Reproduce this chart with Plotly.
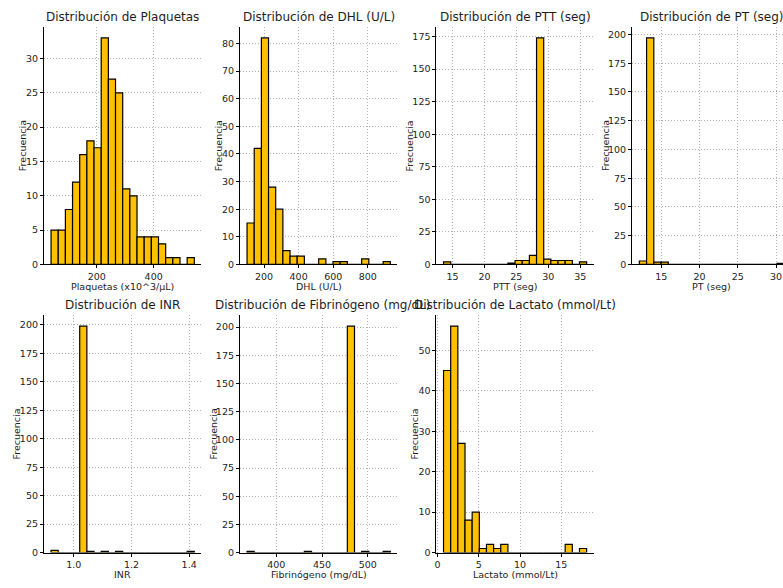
import plotly.graph_objects as go

W, H = 783, 588

# ---- data (histogram bins: first edge, bin width, counts) ----
plaq_start, plaq_width = 39.0, 25.2
plaq_counts = [5, 5, 8, 12, 16, 18, 17, 33, 27, 25, 11, 10, 4, 4, 4, 3, 1, 1, 0, 1]

dhl_start, dhl_width = 102.0, 41.4
dhl_counts = [15, 42, 82, 28, 20, 5, 3, 3, 0, 0, 2, 0, 1, 1, 0, 0, 2, 0, 0, 1]

ptt_start, ptt_width = 13.6, 1.12
ptt_counts = [2, 0, 0, 0, 0, 0, 0, 0, 0, 1, 3, 3, 7, 174, 4, 3, 3, 3, 0, 2]

pt_start, pt_width = 12.13, 0.947
pt_counts = [3, 197, 2, 2, 0, 0, 0, 0, 0, 0, 0, 0, 0, 0, 0, 0, 0, 0, 0, 1]

inr_start, inr_width = 0.921, 0.02485
inr_counts = [2, 0, 0, 0, 199, 1, 0, 1, 0, 1, 0, 0, 0, 0, 0, 0, 0, 0, 0, 1]

fib_start, fib_width = 368.0, 7.835
fib_counts = [1, 0, 0, 0, 0, 0, 0, 0, 1, 0, 0, 0, 0, 0, 201, 0, 1, 0, 0, 1]

lac_start, lac_width = 0.73, 0.8665
lac_counts = [45, 56, 27, 8, 10, 1, 2, 1, 2, 0, 0, 0, 0, 0, 0, 0, 0, 2, 0, 1]

titles = ["Distribución de Plaquetas", "Distribución de DHL (U/L)",
          "Distribución de PTT (seg)", "Distribución de PT (seg)",
          "Distribución de INR", "Distribución de Fibrinógeno (mg/dL)",
          "Distribución de Lactato (mmol/Lt)"]
xlabels = ["Plaquetas (x10^3/µL)", "DHL (U/L)", "PTT (seg)", "PT (seg)",
           "INR", "Fibrinógeno (mg/dL)", "Lactato (mmol/Lt)"]
ylabel = "Frecuencia"

panels = [
    (plaq_start, plaq_width, plaq_counts, 200, 5, None),
    (dhl_start, dhl_width, dhl_counts, 200, 10, None),
    (ptt_start, ptt_width, ptt_counts, 5, 25, None),
    (pt_start, pt_width, pt_counts, 5, 25, None),
    (inr_start, inr_width, inr_counts, 0.2, 25, ".1f"),
    (fib_start, fib_width, fib_counts, 50, 25, None),
    (lac_start, lac_width, lac_counts, 5, 10, None),
]

# ---- layout geometry (pixels) ----
col_px = [(42, 200), (238.5, 396.5), (435.5, 593.3), (631.7, 791.5)]
row_px = [(26.8, 266.7), (317.4, 557.3)]
ylab_px = [20.7, 217.3, 409, 605, 15, 212.3, 414]

BAR = "#FFC000"
FONT = "DejaVu Sans"
TXT = "#1e1e1e"

fig = go.Figure()
layout = dict(width=W, height=H, margin=dict(l=0, r=0, t=0, b=0),
              paper_bgcolor="white", plot_bgcolor="white",
              showlegend=False, barmode="overlay",
              font=dict(family=FONT, color=TXT, size=9))
annotations = []

for i, (start, width, counts, xd, yd, xfmt) in enumerate(panels):
    r, c = divmod(i, 4)
    n = len(counts)
    centers = [start + (k + 0.5) * width for k in range(n)]
    xs = "" if i == 0 else str(i + 1)
    fig.add_trace(go.Bar(x=centers, y=counts, width=[width] * n,
                         marker=dict(color=BAR, line=dict(color="black", width=1.2)),
                         xaxis="x" + xs, yaxis="y" + xs, hoverinfo="x+y"))
    lo, hi = start, start + n * width
    pad = 0.05 * (hi - lo)
    xmin, xmax = lo - pad, hi + pad
    x0p, x1p = col_px[c]
    if x1p > W:  # panel cut at the right edge of the picture
        xmax = xmin + (xmax - xmin) * (W - x0p) / (x1p - x0p)
        x1p_eff = W
    else:
        x1p_eff = x1p
    y0p, y1p = row_px[r]
    ymax = max(counts) * 1.05
    axis_common = dict(showline=True, linecolor="black", linewidth=1,
                       showgrid=True, gridcolor="#b0b0b0", griddash="1px,2px", gridwidth=1,
                       zeroline=False, ticks="outside", ticklen=3, tickcolor="black",
                       tickfont=dict(family=FONT, size=9.5, color=TXT))
    xa = dict(axis_common, domain=[x0p / W, x1p_eff / W], range=[xmin, xmax],
              dtick=xd, tick0=0, anchor="y" + xs)
    if xfmt:
        xa["tickformat"] = xfmt
    ya = dict(axis_common, domain=[1 - y1p / H, 1 - y0p / H], range=[0, ymax],
              dtick=yd, tick0=0, anchor="x" + xs)
    layout["xaxis" + xs] = xa
    layout["yaxis" + xs] = ya

    cx = (x0p + x1p) / 2 / W
    tx = cx + (4 / W if i == 5 else 0)
    annotations.append(dict(text=titles[i], x=tx, y=1 - (y0p - 10) / H,
                            xref="paper", yref="paper", showarrow=False,
                            xanchor="center", yanchor="middle",
                            font=dict(family=FONT, size=12, color=TXT)))
    annotations.append(dict(text=xlabels[i], x=cx, y=1 - (y1p + 22) / H,
                            xref="paper", yref="paper", showarrow=False,
                            xanchor="center", yanchor="middle",
                            font=dict(family=FONT, size=9.5, color=TXT)))
    annotations.append(dict(text=ylabel, x=ylab_px[i] / W, y=1 - (y0p + y1p) / 2 / H,
                            xref="paper", yref="paper", showarrow=False, textangle=-90,
                            xanchor="center", yanchor="middle",
                            font=dict(family=FONT, size=9.5, color=TXT)))

layout["annotations"] = annotations
fig.update_layout(**layout)
fig.write_html("out.html")
